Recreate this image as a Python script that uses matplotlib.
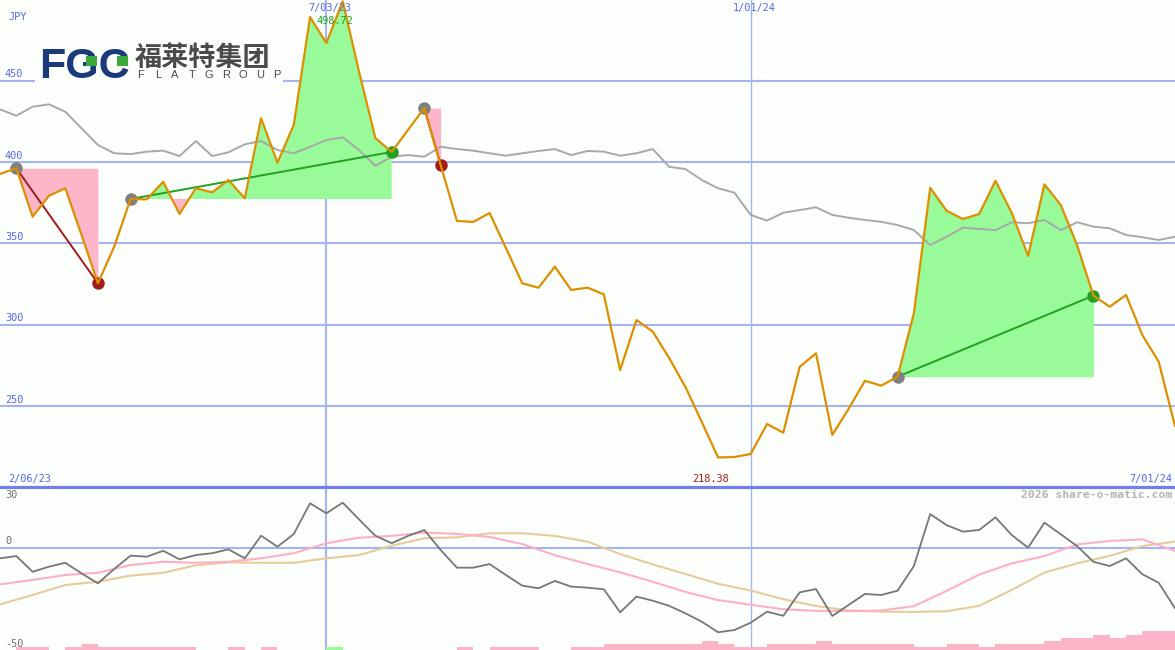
import numpy as np
import matplotlib.pyplot as plt
from matplotlib.patches import Rectangle

# weekly closes (JPY), one point per week from the left edge to 7/01/24
price = [392.6, 396.1, 366.3, 379.2, 383.8, 355.0, 325.4, 347.9, 377.2, 377.0,
         387.8, 368.0, 383.8, 381.3, 388.9, 377.6, 426.8, 399.5, 422.7, 489.0,
         473.0, 498.72, 455.5, 414.7, 406.1, 419.6, 433.1, 398.1, 363.7, 363.1,
         368.6, 347.1, 325.4, 322.7, 335.6, 321.3, 322.7, 318.6, 272.1, 302.8,
         295.7, 279.5, 261.7, 240.2, 218.38, 218.6, 220.5, 238.9, 233.6, 274.0,
         282.4, 232.2, 248.2, 265.5, 262.5, 268.0, 307.0, 384.1, 370.0, 364.9,
         368.0, 388.4, 368.6, 342.2, 386.2, 373.5, 348.9, 317.8, 311.0, 318.2,
         293.6, 277.2, 237.7]

# comparison line (grey)
compare = [432.3, 428.4, 433.9, 435.4, 430.8, 420.6, 410.4, 405.3, 404.8, 406.3,
           406.9, 403.6, 412.8, 403.6, 405.9, 410.8, 412.8, 407.3, 405.3, 409.3,
           413.4, 415.1, 407.3, 397.6, 403.2, 404.2, 403.2, 409.3, 407.9, 406.9,
           405.3, 403.8, 405.3, 406.7, 407.9, 404.2, 406.7, 406.3, 403.8, 405.3,
           407.9, 397.0, 395.6, 388.9, 383.8, 381.1, 367.4, 363.9, 368.8, 370.4,
           372.1, 367.4, 365.7, 364.3, 363.2, 361.2, 358.1, 348.9, 354.0, 359.6,
           358.8, 358.1, 362.9, 362.3, 364.3, 358.1, 362.9, 360.2, 359.2, 355.1,
           353.7, 352.0, 354.0]

# lower panel oscillator
momentum = [-5.0, -3.9, -11.6, -9.1, -7.2, -12.4, -17.3, -10.2, -3.7, -4.2,
            -1.3, -5.5, -3.4, -2.5, -0.6, -5.0, 6.1, 0.7, 6.9, 22.0,
            17.1, 22.3, 14.1, 6.1, 2.4, 6.0, 8.9, -0.9, -9.6, -9.6,
            -7.8, -13.2, -18.4, -19.7, -16.1, -18.9, -19.4, -20.2, -31.5, -23.8,
            -25.8, -28.3, -32.0, -36.1, -41.3, -40.2, -36.6, -31.2, -33.2, -21.7,
            -20.1, -33.3, -27.9, -22.5, -23.0, -20.9, -8.8, 16.7, 11.3, 8.1,
            8.9, 15.1, 6.4, 0.2, 12.5, 6.8, 1.0, -6.7, -8.8, -5.0,
            -12.8, -17.0, -29.5]

# smooth averages, read every second week
ma_weeks = list(range(0, 73, 2))
ma_fast = [-17.8, -15.6, -13.2, -12.1, -8.3, -6.7, -7.2, -6.7, -5.0, -2.5,
           2.4, 5.1, 6.0, 7.6, 7.0, 5.5, 2.0, -3.5, -7.8, -11.9,
           -16.5, -21.5, -25.5, -27.8, -30.0, -30.8, -30.9, -30.6, -28.5, -21.0,
           -13.0, -7.5, -3.9, 1.8, 3.5, 4.3, -1.4]
ma_slow = [-27.6, -23.0, -18.1, -16.5, -13.5, -12.1, -8.4, -7.0, -7.2, -7.2,
           -5.0, -3.4, 1.2, 4.8, 5.3, 7.3, 7.3, 6.0, 3.2, -2.9,
           -8.0, -12.7, -17.5, -20.8, -25.1, -28.4, -30.6, -31.2, -31.3, -31.0,
           -28.3, -20.5, -12.0, -7.5, -3.8, 1.0, 3.2]

# weekly volume (relative), one bar per week
volume = [0, 3, 3, 0, 3, 6, 3, 3, 3, 3,
          3, 3, 0, 0, 3, 0, 3, 0, 0, 0,
          3, 0, 0, 0, 0, 0, 0, 0, 3, 0,
          3, 3, 3, 0, 0, 3, 3, 6, 6, 6,
          6, 6, 6, 9, 6, 3, 3, 6, 6, 6,
          9, 6, 6, 6, 6, 6, 3, 3, 6, 6,
          3, 6, 6, 6, 9, 12, 12, 15, 12, 15,
          19, 19]
volume_up_weeks = [20]

# trend segments (start week, end week)
trend_start = [1, 8, 26, 55]
trend_end = [6, 24, 27, 67]

date_weeks = [20, 46]
date_labels = ['7/03/23', '1/01/24']
first_date = '2/06/23'
last_date = '7/01/24'
price_ticks = [250, 300, 350, 400, 450]

W, H = 1175, 650
BOT = 163  # height of lower panel in px


def px(x, y):
    return x / W, 1 - y / H


bg = '#fcfefc'
grid_c = '#a4b4f0'
blue_txt = '#5868e8'
mono = 'DejaVu Sans Mono'

fig = plt.figure(figsize=(W / 100, H / 100), dpi=100)
fig.patch.set_facecolor(bg)
ax = fig.add_axes([0, BOT / H, 1, 1 - BOT / H])
axb = fig.add_axes([0, 0, 1, BOT / H])
axv = axb.twinx()

weeks = np.arange(len(price))
pr = np.array(price)

# ---- upper panel
for v in price_ticks:
    ax.axhline(v, color=grid_c, lw=1.5, zorder=1)
    ax.text(0.3, v + 0.8, str(v), color=blue_txt, fontsize=7.4, family=mono,
            va='bottom', ha='left', zorder=2)
ax.axvline(date_weeks[0], color=grid_c, lw=1.5, zorder=1)
ax.axvline(date_weeks[1], color=grid_c, lw=1.0, zorder=1)

for s, e in zip(trend_start, trend_end):
    xs = weeks[s:e + 1]
    ys = pr[s:e + 1]
    level = price[s]
    ax.fill_between(xs, ys, level, where=ys >= level, interpolate=True,
                    color='#98fa98', lw=0, zorder=2)
    ax.fill_between(xs, ys, level, where=ys <= level, interpolate=True,
                    color='#fdb6c9', lw=0, zorder=2)

ax.plot(weeks, compare, color='#a8a8a8', lw=1.4, zorder=3)

for s, e in zip(trend_start, trend_end):
    up = price[e] > price[s]
    c = '#22a022' if up else '#a01c1c'
    ax.plot([s, e], [price[s], price[e]], color=c, lw=1.4, zorder=4)
    ax.plot(s, price[s], 'o', color='#808080', ms=9, mew=0, zorder=5)
    ax.plot(e, price[e], 'o', color=c, ms=9, mew=0, zorder=5)

ax.plot(weeks, price, color='#dc9000', lw=1.6, zorder=6)

ax.set_xlim(0, 72)
ax.set_ylim(200.2, 499.5)
ax.set_axis_off()

# ---- lower panel
axb.axhline(0, color=grid_c, lw=1.5, zorder=1)
axb.axvline(date_weeks[0], color=grid_c, lw=1.5, zorder=1)
axb.axvline(date_weeks[1], color=grid_c, lw=1.0, zorder=1)
axb.axhline(30, color='#7080e6', lw=2.3, zorder=5, clip_on=False)
axb.plot(ma_weeks, ma_slow, color='#e6cc9c', lw=1.5, zorder=2)
axb.plot(ma_weeks, ma_fast, color='#fcb0c8', lw=1.5, zorder=2)
axb.plot(weeks, momentum, color='#777777', lw=1.3, zorder=3)
axb.text(0.3, 28.3, '30', color='#707070', fontsize=7.4, family=mono, va='top')
axb.text(0.3, 0.8, '0', color='#707070', fontsize=7.4, family=mono, va='bottom')
axb.text(0.3, -49.3, '-50', color='#707070', fontsize=7.4, family=mono, va='bottom')
axb.set_xlim(0, 72)
axb.set_ylim(-50, 30)
axb.set_axis_off()

bar_colors = ['#98fa98' if i in volume_up_weeks else '#fbb4c8' for i in range(len(volume))]
axv.bar(np.arange(len(volume)), volume, width=1, align='edge', color=bar_colors, lw=0)
axv.set_ylim(0, BOT)
axv.set_xlim(0, 72)
axv.set_axis_off()

# ---- labels
fig.text(*px(8, 17), 'JPY', color=blue_txt, fontsize=7.4, family=mono, va='center')
fig.text(*px(330, 8.5), date_labels[0], color=blue_txt, fontsize=7.4, family=mono,
         va='center', ha='center')
fig.text(*px(335, 21), f'{max(price):.2f}', color='#22a022', fontsize=7.4, family=mono,
         va='center', ha='center')
fig.text(*px(754, 8.5), date_labels[1], color=blue_txt, fontsize=7.4, family=mono,
         va='center', ha='center')
fig.text(*px(8, 479), first_date, color=blue_txt, fontsize=7.4, family=mono, va='center')
fig.text(*px(1172, 479), last_date, color=blue_txt, fontsize=7.4, family=mono,
         va='center', ha='right')
fig.text(*px(711, 479), f'{min(price):.2f}', color='#a01c1c', fontsize=7.4, family=mono,
         va='center', ha='center')
fig.text(*px(1172, 495), '2026 share-o-matic.com', color='#b4b4b4', fontsize=8.2,
         family=mono, weight='bold', va='center', ha='right')

# ---- logo
fig.add_artist(Rectangle(px(35, 82), 248 / W, 44 / H, transform=fig.transFigure,
                         facecolor=bg, edgecolor='none', zorder=3))
fig.text(*px(39, 78), 'FGC', color='#1b3a7a', fontsize=31, weight='bold',
         family='Liberation Sans', va='baseline', zorder=4)
for gx in (86, 117):
    fig.add_artist(Rectangle(px(gx, 66), 11 / W, 10 / H, transform=fig.transFigure,
                             facecolor='#3aaa3a', edgecolor='none', zorder=5))
fig.text(*px(135, 66), '福莱特集团', color='#4a4a4a', fontsize=19.5, weight='bold',
         family=['Noto Sans CJK SC', 'DejaVu Sans'], va='baseline', zorder=4)
for k, ch in enumerate('FLATGROUP'):
    fig.text(*px(141 + k * 17.0, 78), ch, color='#4a4a4a', fontsize=8,
             family='Liberation Sans', va='baseline', ha='center', zorder=4)

fig.savefig('out.png', dpi=100, facecolor=bg)
